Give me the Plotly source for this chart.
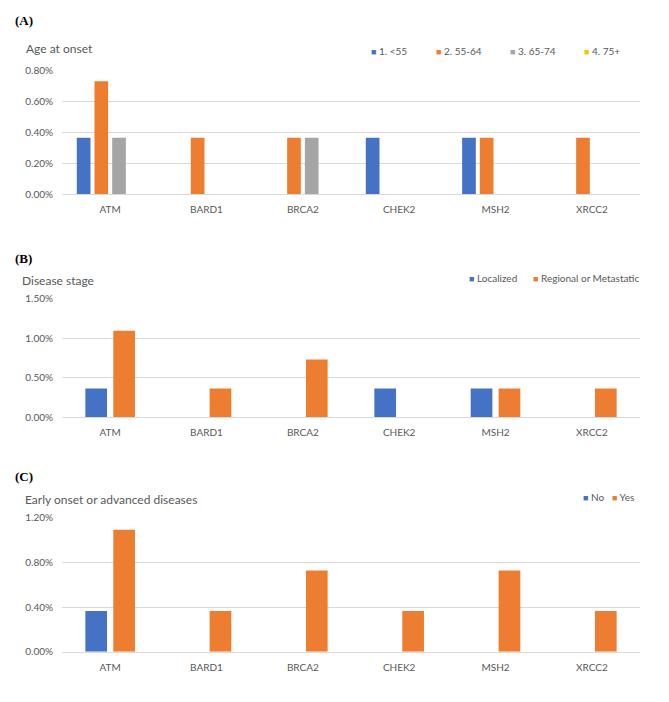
import plotly.graph_objects as go

# ---------------- data ----------------
genes = ["ATM", "BARD1", "BRCA2", "CHEK2", "MSH2", "XRCC2"]

age_names = ["1. <55", "2. 55-64", "3. 65-74", "4. 75+"]
age_lt55 = [0.00365, 0, 0, 0.00365, 0.00365, 0]
age_55_64 = [0.0073, 0.00365, 0.00365, 0, 0.00365, 0.00365]
age_65_74 = [0.00365, 0, 0.00365, 0, 0, 0]
age_75p = [0, 0, 0, 0, 0, 0]

stage_names = ["Localized", "Regional or Metastatic"]
stage_localized = [0.00365, 0, 0, 0.00365, 0.00365, 0]
stage_regional = [0.01095, 0.00365, 0.0073, 0, 0.00365, 0.00365]

early_names = ["No", "Yes"]
early_no = [0.00365, 0, 0, 0, 0, 0]
early_yes = [0.01095, 0.00365, 0.0073, 0.00365, 0.0073, 0.00365]

age_ticks = [0, 0.002, 0.004, 0.006, 0.008]
stage_ticks = [0, 0.005, 0.010, 0.015]
early_ticks = [0, 0.004, 0.008, 0.012]

# ---------------- style ----------------
BLUE, ORANGE, GRAY, YELLOW = "#4472C4", "#ED7D31", "#A5A5A5", "#FFC000"
TXT = "#595959"
GRID = "#D9D9D9"
FONT = "Lato"
PAGE_MARGIN = 8            # default <body> margin of the written page
W = 669 - 2 * PAGE_MARGIN
H = 702 - 2 * PAGE_MARGIN - 13

# empirical mapping between page pixels and the photographed picture
Y_SCALE, Y_SHIFT = 0.982, 7.5


def px_x(p):
    return (p - PAGE_MARGIN) / W


def px_y(p):
    page = (p - Y_SHIFT) / Y_SCALE
    return 1 - (page - PAGE_MARGIN) / H


fig = go.Figure()


def add_group(values_list, names, colors, xa, ya, slot, bar_w):
    n = len(values_list)
    start = -n * slot / 2
    for i, (vals, name, col) in enumerate(zip(values_list, names, colors)):
        fig.add_trace(go.Bar(
            x=genes, y=vals, name=name, showlegend=False,
            marker=dict(color=col, line=dict(width=0)),
            width=bar_w, offset=start + i * slot + (slot - bar_w) / 2,
            xaxis=xa, yaxis=ya, hoverinfo="x+y+name",
        ))


add_group([age_lt55, age_55_64, age_65_74, age_75p], age_names,
          [BLUE, ORANGE, GRAY, YELLOW], "x", "y", 0.1836, 0.142)
add_group([stage_localized, stage_regional], stage_names,
          [BLUE, ORANGE], "x2", "y2", 0.29, 0.225)
add_group([early_no, early_yes], early_names,
          [BLUE, ORANGE], "x3", "y3", 0.29, 0.225)

xdom = [px_x(62), px_x(640)]
panels = [
    ("", "y", (195, 70.7), [0, 0.008], age_ticks),
    ("2", "y2", (418.3, 299.3), [0, 0.015], stage_ticks),
    ("3", "y3", (653, 519), [0, 0.012], early_ticks),
]
for suf, yname, (bot, top), rng, ticks in panels:
    fig.update_layout(**{
        "xaxis" + suf: dict(
            domain=xdom, anchor=yname, type="category",
            categoryorder="array", categoryarray=genes,
            range=[-0.5, 5.5], showgrid=False, zeroline=False,
            showline=True, linecolor=GRID, linewidth=1,
            ticks="", ticklabelstandoff=6,
            tickfont=dict(family=FONT, size=10, color=TXT),
        ),
        "yaxis" + suf: dict(
            domain=[px_y(bot), px_y(top)], anchor="x" + suf,
            range=rng, tickvals=ticks, tickformat=".2%",
            showgrid=True, gridcolor=GRID, gridwidth=1,
            zeroline=False, showline=False, ticks="",
            ticklabelstandoff=8,
            tickfont=dict(family=FONT, size=10, color=TXT),
        ),
    })

annos = []


def label(text, x, y, size, color=TXT, family=FONT, anchor="left"):
    annos.append(dict(text=text, x=px_x(x), y=px_y(y), xref="paper", yref="paper",
                      xanchor=anchor, yanchor="middle", showarrow=False,
                      font=dict(family=family, size=size, color=color)))


# panel labels
for t, yy in [("(A)", 21), ("(B)", 259), ("(C)", 477)]:
    label("<b>" + t + "</b>", 13, yy, 13, color="#000000", family="Liberation Serif")

# chart titles
label("Age at onset", 24, 49, 12)
label("Disease stage", 20, 281, 12)
label("Early onset or advanced diseases", 23, 501, 12)


def legend_item(name, color, x, y):
    safe = name.replace("<", "&lt;")
    label('<span style="color:%s;font-size:9px">■</span> %s' % (color, safe), x, y, 10)


for name, col, xx in zip(age_names, [BLUE, ORANGE, GRAY, YELLOW], [369, 434, 508, 582]):
    legend_item(name, col, xx, 51)
for name, col, xx in zip(stage_names, [BLUE, ORANGE], [467, 531]):
    legend_item(name, col, xx, 279)
for name, col, xx in zip(early_names, [BLUE, ORANGE], [581, 610]):
    legend_item(name, col, xx, 498)

fig.update_layout(
    annotations=annos,
    width=W, height=H, autosize=False,
    margin=dict(l=0, r=0, t=0, b=0),
    paper_bgcolor="white", plot_bgcolor="white",
    barmode="group",
    font=dict(family=FONT, color=TXT),
)

fig.write_html("out.html")
